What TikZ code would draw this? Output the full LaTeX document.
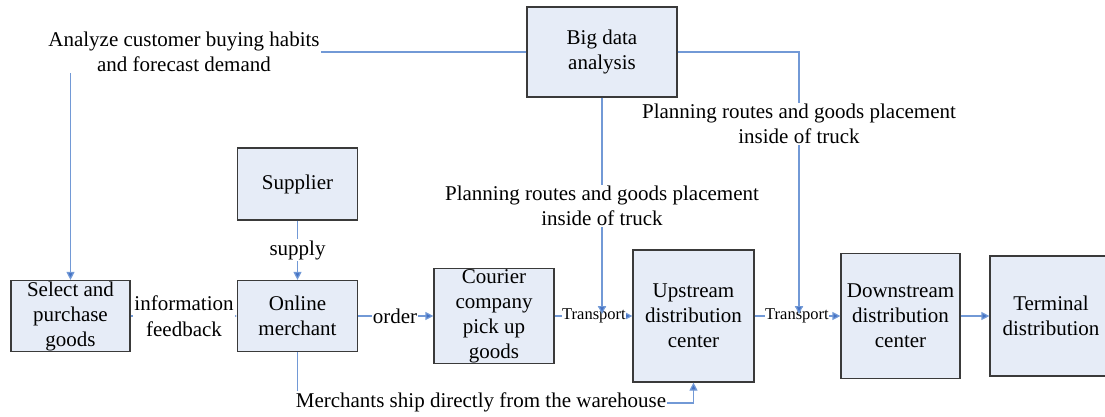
\documentclass[tikz,border=0pt]{standalone}
\usepackage{fontspec}
\setmainfont{Liberation Serif}
\usetikzlibrary{arrows.meta}
\definecolor{boxfill}{HTML}{E6ECF7}
\definecolor{boxline}{HTML}{3A3A3A}
\definecolor{connc}{HTML}{7299D6}
\definecolor{tipc}{HTML}{4472C4}
\begin{document}
\begin{tikzpicture}[x=1pt,y=-1pt,
  box/.style={draw=boxline,line width=1.2pt,fill=boxfill,align=center,inner sep=0pt,font=\fontsize{21}{25}\selectfont},
  lab/.style={fill=white,align=center,inner sep=1pt,font=\fontsize{21}{25.5}\selectfont},
  smalllab/.style={fill=white,inner sep=0.5pt,font=\fontsize{16.5}{19}\selectfont},
  conn/.style={draw=connc,line width=1.2pt,-{Triangle[length=8pt,width=8pt,fill=tipc]}},
  smallconn/.style={draw=connc,line width=1.2pt,-{Triangle[length=4pt,width=4pt,fill=tipc]}}]
\useasboundingbox (0,0) rectangle (1105,417);
% boxes
\node[box,minimum width=150pt,minimum height=90pt] (big) at (602,52) {Big data\\analysis};
\node[box,minimum width=120pt,minimum height=72pt] (supplier) at (297.5,184) {Supplier};
\node[box,minimum width=119pt,minimum height=71pt] (select) at (70.5,316) {Select and\\purchase\\goods};
\node[box,minimum width=120pt,minimum height=71pt] (online) at (297.5,316) {Online\\merchant};
\node[box,minimum width=120pt,minimum height=95pt] (courier) at (494,316) {Courier\\company\\pick up\\goods};
\node[box,minimum width=121pt,minimum height=132pt] (upstream) at (693.5,316) {Upstream\\distribution\\center};
\node[box,minimum width=119pt,minimum height=125pt] (downstream) at (900.5,316) {Downstream\\distribution\\center};
\begin{scope}
\clip (0,0) rectangle (1105,417);
\node[box,minimum width=122pt,minimum height=120pt] (terminal) at (1051,316) {Terminal\\distribution};
\end{scope}
% connectors
\coordinate (t1) at (602,314);
\coordinate (t2) at (799,314);
\coordinate (mc) at (693.5,403);
\draw[smallconn] (select) -- (online);
\draw[conn] (online) -- (courier);
\draw[conn] (courier) -- (upstream);
\draw[conn] (upstream) -- (downstream);
\draw[conn] (downstream) -- (terminal);
\draw[conn] (supplier) -- (online);
\draw[conn] (big.west) -| (select.north);
\draw[conn] (big.south) -- (t1);
\draw[conn] (big.east) -| (t2);
\draw[conn] (online.south) |- (mc) -- (upstream.south);
% labels
\node[lab] (l1) at (184,316) {information\\feedback};
\node[lab] (l2) at (395,316) {order};
\node[smalllab] (l3) at (594,316) {Transport};
\node[smalllab] (l4) at (797,316) {Transport};
\node[lab] (l5) at (297.5,250) {supply};
\node[lab] (l6) at (184,52) {Analyze customer buying habits\\and forecast demand};
\node[lab] (l7) at (602,206) {Planning routes and goods placement\\inside of truck};
\node[lab] (l8) at (799,124) {Planning routes and goods placement\\inside of truck};
\node[lab] (l9) at (481,402) {Merchants ship directly from the warehouse};
% redraw arrow tips over small labels
\draw[conn] (602,300) -- (t1);
\draw[conn] (799,300) -- (t2);
\end{tikzpicture}
\end{document}
